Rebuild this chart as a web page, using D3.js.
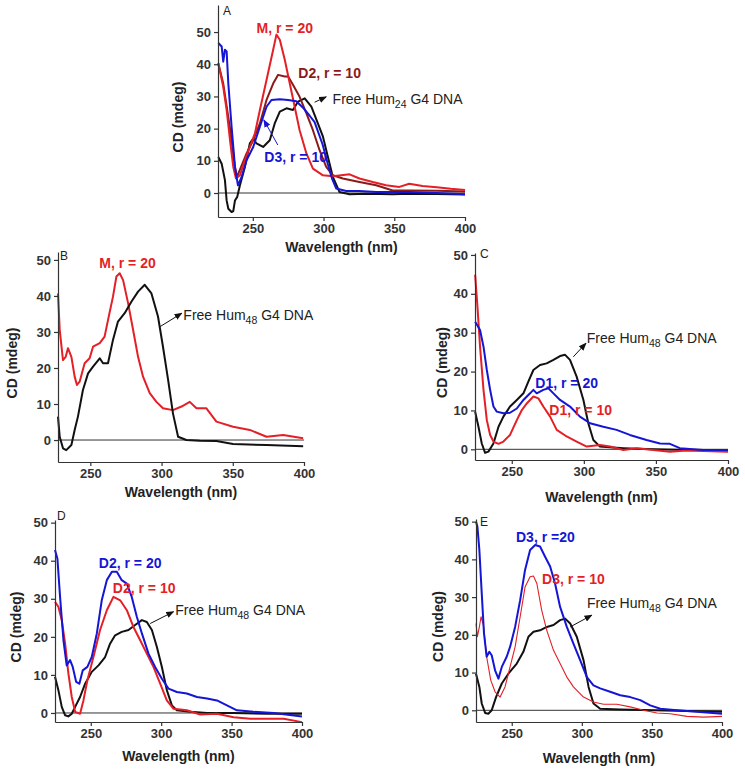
<!DOCTYPE html>
<html>
<head>
<meta charset="utf-8">
<script src="https://cdn.jsdelivr.net/npm/d3@7/dist/d3.min.js"></script>
<style>
  body { margin: 0; background: #fff; }
  text { font-family: "Liberation Sans", Arial, sans-serif; }
</style>
</head>
<body>
<div id="chart"></div>
<script>
// ---- data: [wavelength nm, CD mdeg] ----
var xTicks = [250, 300, 350, 400];
var yTicks = [0, 10, 20, 30, 40, 50];

// panel A (Hum24)
var A_free = [[225.6,11.2],[228,9.1],[230.3,4],[231.5,-2.3],[232.7,-4.9],[235,-5.9],[236.2,-5.6],[237.4,-2.3],[239,-1.2],[240.9,2.4],[244.4,8.1],[247.9,15.4],[250.3,16.9],[252.6,15.4],[257.3,14.3],[262,16.4],[265.5,21.6],[269.1,25.3],[273.8,26.3],[278.4,25.8],[282,28.4],[286.7,29.4],[291.4,26.8],[296,21.6],[299.6,17.5],[303.1,11.2],[306.6,5],[311.3,0.3],[318.4,-0.4],[330.1,-0.2],[348.9,-0.4],[360.6,-0.2],[380,-0.3],[400,-0.5]];
var A_M20 = [[225.6,40.3],[229.1,33],[231.5,25.8],[233.9,16.4],[236.2,8.1],[238.1,4.5],[240.9,5.5],[244.4,10.2],[247.9,14.3],[251.5,18.5],[255,25.8],[259.7,35.1],[264.4,44.5],[266.7,49.2],[269.1,47.6],[272.6,41.4],[276.1,34.1],[279.6,26.8],[283.1,19.5],[287.9,12.3],[292.5,7.6],[299.6,5.5],[306.6,5.2],[312.5,5.5],[318.4,5.8],[325.4,4.5],[334.8,3.4],[344.2,2.4],[353.6,1.9],[360.6,2.9],[370,2.2],[380,1.8],[390,1.3],[400,0.9]];
var A_D2r10 = [[225.6,40.3],[229.1,34],[233.9,20],[237.4,8],[238.8,5],[245.6,12.3],[250.3,16.4],[255,21.6],[259.7,28.9],[264.4,34],[267.9,36.7],[272.6,36.2],[275,36.2],[278.4,33.6],[283.1,29.9],[287.9,24.7],[292.5,19.5],[297.2,13.3],[301.9,8.1],[306.6,5.5],[313.6,4.5],[325.4,3.4],[337.2,2.4],[348.9,0.8],[360.6,0.8],[380,0.7],[400,0.5]];
var A_D3r10 = [[225.6,46.6],[228,45.5],[229.1,40.8],[230.3,44.5],[231.5,44],[232.7,34],[235,20.6],[237.4,8.1],[239.5,2.4],[242.1,5],[245.6,10.2],[250.3,14.3],[255,20.6],[259.7,26.8],[263.2,28.9],[269.1,29.1],[274.9,28.9],[280.8,28.5],[285.5,26.5],[290.2,24],[293.7,22],[299.4,15],[303,9],[306,4.5],[309,1.4],[316,0.6],[325.4,0.6],[337.2,0.3],[360.6,0.3],[380,0],[400,-0.4]];

// panel B (Hum48 + M)
var B_free = [[227.3,6.5],[228.5,0.9],[230.8,-2.3],[233.1,-2.8],[236.7,-1.4],[239,2.8],[241.3,6.5],[244.8,13.9],[248.4,18.5],[251.9,20.4],[256.6,22.7],[258.9,21.3],[262.4,21.3],[265.9,27.8],[269.4,32.9],[274.1,35.2],[278.8,38.4],[283.5,41.2],[288.2,43.1],[292.9,40.7],[297.5,34.3],[301,25.9],[304.6,16.7],[308,7.4],[311.6,0.9],[317.4,0],[326.8,-0.2],[338.5,-0.3],[350.2,-1.1],[373.7,-1.4],[399.4,-1.7]];
var B_M20 = [[227.3,40.7],[228.5,30.6],[230.8,22.2],[232.7,23.1],[234.3,25.5],[236.7,23.1],[239,17.6],[240.6,15.3],[242.5,16.2],[246,21.3],[249.5,22.7],[251.9,25.9],[256.6,26.9],[260,28.7],[262.4,33.3],[265.9,39.8],[268.3,45.4],[270.6,46.3],[273,44.4],[276.5,38],[280,30.6],[283.5,23.1],[287,17.6],[291.7,13],[296.4,10.6],[301,8.8],[308,8.3],[314,9.3],[319.8,10.6],[324.5,8.8],[331.5,8.8],[338.5,5.1],[350.2,3.7],[362,2.8],[373.7,0.9],[385.4,1.4],[399.4,0.5]];

// panel C (Hum48 + D1)
var C_free = [[224.6,9.7],[226.9,5.8],[229.2,1.5],[231.5,-0.9],[233.8,-0.6],[237.3,1.5],[240.8,5.8],[244.2,8.4],[248.8,11],[253.5,12.7],[258.1,14.4],[261.5,17.4],[265,20.4],[269.6,21.7],[274.2,22.1],[278.9,23],[283.5,24],[287,24.3],[290.4,23],[295,18.7],[299.7,12.7],[303.1,6.7],[306.6,2.4],[311.2,0.7],[318.1,0.5],[327.4,0.3],[348.2,0],[371.2,-0.2],[400,-0.3]];
var C_D1r20 = [[224.6,32.8],[228,30.7],[230.4,26.4],[232.7,20.4],[235,15.3],[237.3,11],[239.6,9.7],[244.2,9.3],[248.8,9.4],[253.5,10.5],[258.1,12.7],[262.7,14.4],[265,15.3],[267.3,14.4],[271.9,15.3],[275.4,15.7],[278.9,14.4],[283.5,12.7],[290.4,11],[297.3,8.4],[304.3,6.7],[313.5,5.8],[322.7,5],[331.9,3.7],[343.5,2.4],[352.8,1.5],[359.7,1.4],[366.6,0.3],[382.8,-0.2],[400,-0.2]];
var C_D1r10 = [[224.6,44.9],[226.2,36.7],[228,26.4],[230.4,15.3],[232.7,7.5],[235,3.7],[237.3,2],[240.8,1.4],[244.2,2],[248.8,3.7],[253.5,7.5],[257,10.1],[260.4,11.8],[265,13.6],[268.5,13.1],[271.9,11],[276.6,8.4],[281.2,5],[288.1,3.3],[295,2],[302,0.7],[311.2,1.1],[318.1,0.7],[327.4,-0.2],[336.6,0.3],[348.2,-0.2],[359.7,-0.6],[371.2,-0.3],[400,-0.6]];

// panel D (Hum48 + D2)
var D_free = [[224.6,9.5],[227,6],[229.4,1.6],[231.8,-0.6],[234.1,-0.9],[236.5,-0.2],[238.9,1.6],[242.4,4.2],[246,7.7],[250.7,10.8],[255.5,12.5],[260.2,14.7],[263.7,18.2],[267.3,20.4],[272,21.3],[276.8,21.8],[281.5,23.1],[286.3,24.4],[289.8,23.9],[293.4,21.8],[296.9,17.4],[300.5,12.1],[304,6],[307.6,2],[311.1,0.7],[320.6,0.3],[332.5,0],[351.4,0],[375.1,-0.2],[400,-0.2]];
var D_D2r20 = [[224.6,42.8],[226.3,40.6],[228.2,30.5],[230.6,19.1],[232.9,12.5],[235.3,13.9],[237.2,12.1],[239.6,8.2],[241.9,7.7],[244.3,11.2],[247.6,12.1],[250.7,14.7],[254.3,20.9],[257.8,29.6],[261.4,34.9],[265,37.1],[268.5,37.1],[272,34.9],[275.6,34],[279.1,30.5],[282.7,25.3],[286.3,20.9],[291,15.6],[295.7,12.1],[300.5,9],[305.2,6.4],[311.1,5.5],[318.2,5.1],[325.4,4.2],[332.5,3.8],[339.6,3.3],[346.7,2],[353.8,0.7],[365.6,0.3],[379.9,0],[400,-0.9]];
var D_D2r10 = [[224.6,29.2],[227,27.9],[229.4,24.4],[231.8,18.2],[234.1,10.4],[236.5,4.2],[238.9,0.3],[242.4,-0.2],[244.8,3.3],[247.6,8.6],[251.9,14.7],[256.6,21.8],[261.4,27],[266.1,30.5],[270.9,29.6],[275.6,27],[280.3,22.6],[285.1,19.1],[289.8,15.6],[294.5,12.1],[299.3,7.7],[304,3.3],[308.8,1.1],[318.2,0.7],[327.7,-0.4],[339.6,-0.2],[351.4,-1.1],[363.3,-1.5],[375.1,-1.5],[387,-1.5],[400,-2.4]];

// panel E (Hum48 + D3)
var E_free = [[224.5,9.7],[226.9,6.2],[228.6,1.8],[231,-0.7],[233.3,-0.9],[235.7,0],[238.8,3.5],[242.9,7.1],[247.6,9.7],[253.6,12.4],[258.3,15.5],[261.9,19.5],[265.5,20.8],[270.2,21.2],[275,22.1],[279.8,22.6],[284.5,23.9],[288.1,24.3],[291.7,23],[296.4,19.5],[301.2,13.3],[304.8,6.2],[308.3,1.8],[313.1,0.4],[327.4,0.2],[351.2,0],[375,-0.2],[400,-0.4]];
var E_D3r20 = [[224.5,50],[225.5,48.7],[226.9,42.5],[228.6,31],[230.2,20.4],[232.1,14.2],[234,15.5],[235.7,14.6],[238.1,10.6],[240.5,8.4],[242.9,11.5],[246.4,14.2],[248.8,16.8],[252.4,22.1],[256,29.2],[259.5,37.2],[263.1,42.5],[266.7,43.8],[270.2,43.4],[273.8,40.7],[277.4,38.1],[280.9,33.6],[284.5,27.4],[289.3,22.1],[294,17.7],[298.8,13.3],[303.6,8.8],[308.3,6.6],[313.1,5.8],[320.2,4.9],[327.4,4],[334.5,3.5],[341.7,2.7],[348.8,1.3],[356,0.4],[367.9,0],[382.1,-0.4],[400,-0.9]];
var E_D3r10 = [[224.5,23],[225.5,19.5],[226.9,22.1],[228.1,24.8],[229.8,22.6],[232.1,14.2],[235,8],[238.1,4.9],[241.7,3.5],[245.2,6.2],[248.8,11.5],[252.4,16.8],[256,24.8],[259.5,32.7],[263.1,35.4],[265.5,35.6],[267.9,33.6],[271.4,26.5],[275,21.2],[279.8,15.9],[284.5,12.4],[289.3,8.8],[294,6.2],[301.2,3.5],[308.3,2.2],[315.5,1.6],[325,1.6],[334.5,0.9],[344,0],[353.6,-0.7],[363.1,-0.9],[375,-1.6],[386.9,-1.8],[400,-1.6]];

// ---- layout ----
var RED = "#e41f26", BLUE = "#1515d6", DRED = "#8b1a1a", BLACK = "#111";

var panels = [
  { letter: "A", lx: 223, ly: 15, x0: 218, x1: 465, yb: 217, yt: 5, xd: [225.4, 400], yd: [-7.45, 58.4], ylabX: 178, xlabY: 247,
    series: [ {d: A_free, c: BLACK, w: 2}, {d: A_D2r10, c: DRED, w: 2}, {d: A_M20, c: RED, w: 2}, {d: A_D3r10, c: BLUE, w: 2} ],
    notes: [ {t: "M, r = 20", x: 272.6, y: 51.2, c: RED, b: true},
             {t: "D2, r = 10", x: 304.3, y: 37.3, c: DRED, b: true},
             {t: "Free Hum", sub: "24", rest: " G4 DNA", x: 306.4, y: 29.2, c: "#222", a: "start"},
             {t: "D3, r = 10", x: 280.3, y: 11.2, c: BLUE, b: true} ],
    arrows: [ {from: [293.7, 28.2], to: [301.9, 29.9], c: "black"}, {from: [267.7, 14.9], to: [257.8, 22.7], c: "blue"} ] },
  { letter: "B", lx: 60, ly: 260, x0: 58, x1: 304, yb: 462, yt: 252, xd: [227.3, 400], yd: [-6.1, 52.2], ylabX: 12, xlabY: 492,
    series: [ {d: B_M20, c: RED, w: 2}, {d: B_free, c: BLACK, w: 2} ],
    notes: [ {t: "M, r = 20", x: 276.1, y: 49.1, c: RED, b: true},
             {t: "Free Hum", sub: "48", rest: " G4 DNA", x: 315.3, y: 34.7, c: "#222", a: "start"} ],
    arrows: [ {from: [299, 31.5], to: [314.2, 35.2], c: "black"} ] },
  { letter: "C", lx: 480, ly: 258, x0: 475, x1: 728, yb: 460, yt: 253, xd: [224.5, 400], yd: [-2.75, 50.5], ylabX: 442, xlabY: 497,
    series: [ {d: C_free, c: BLACK, w: 2}, {d: C_D1r10, c: RED, w: 2}, {d: C_D1r20, c: BLUE, w: 2} ],
    notes: [ {t: "Free Hum", sub: "48", rest: " G4 DNA", x: 302, y: 28.6, c: "#222", a: "start"},
             {t: "D1, r = 20", x: 288.1, y: 17, c: BLUE, b: true},
             {t: "D1, r = 10", x: 297.8, y: 10.1, c: RED, b: true} ],
    arrows: [ {from: [292.7, 23.8], to: [301.5, 27.3], c: "black"} ] },
  { letter: "D", lx: 57, ly: 520, x0: 55, x1: 302, yb: 722, yt: 520, xd: [224.6, 400], yd: [-2.37, 50.7], ylabX: 16, xlabY: 756,
    series: [ {d: D_free, c: BLACK, w: 2}, {d: D_D2r10, c: RED, w: 2}, {d: D_D2r20, c: BLUE, w: 2} ],
    notes: [ {t: "D2, r = 20", x: 278, y: 39.3, c: BLUE, b: true},
             {t: "D2, r = 10", x: 287.9, y: 32.7, c: RED, b: true},
             {t: "Free Hum", sub: "48", rest: " G4 DNA", x: 310, y: 27, c: "#222", a: "start"} ],
    arrows: [ {from: [292.2, 23.5], to: [308.8, 26.6], c: "black"} ] },
  { letter: "E", lx: 480, ly: 526, x0: 476, x1: 722, yb: 722, yt: 519, xd: [224.5, 400], yd: [-3.1, 50.7], ylabX: 438, xlabY: 758,
    series: [ {d: E_free, c: BLACK, w: 2}, {d: E_D3r10, c: RED, w: 1.1}, {d: E_D3r20, c: BLUE, w: 2} ],
    notes: [ {t: "D3, r =20", x: 274, y: 46, c: BLUE, b: true},
             {t: "D3, r = 10", x: 294, y: 34.7, c: RED, b: true},
             {t: "Free Hum", sub: "48", rest: " G4 DNA", x: 303.6, y: 28.5, c: "#222", a: "start"} ],
    arrows: [ {from: [291.7, 22.1], to: [307.1, 25.2], c: "black"} ] }
];

var svg = d3.select("#chart").append("svg")
    .attr("width", 745)
    .attr("height", 770);

var defs = svg.append("defs");
[["black", "#111"], ["blue", BLUE]].forEach(function(m) {
  defs.append("marker")
      .attr("id", "arrow-" + m[0])
      .attr("viewBox", "0 0 10 8")
      .attr("refX", 9).attr("refY", 4)
      .attr("markerWidth", 8).attr("markerHeight", 6.5)
      .attr("markerUnits", "userSpaceOnUse")
      .attr("orient", "auto")
    .append("path")
      .attr("d", "M0,0L10,4L0,8z")
      .attr("fill", m[1]);
});

panels.forEach(function(p) {
  var x = d3.scaleLinear().domain(p.xd).range([p.x0, p.x1]);
  var y = d3.scaleLinear().domain(p.yd).range([p.yb, p.yt]);
  var g = svg.append("g");

  // zero line
  g.append("line")
      .attr("x1", x(p.xd[0])).attr("x2", x(400))
      .attr("y1", y(0)).attr("y2", y(0))
      .attr("stroke", "#333").attr("stroke-width", 1);

  // curves
  var line = d3.line()
      .x(function(d) { return x(d[0]); })
      .y(function(d) { return y(d[1]); });
  p.series.forEach(function(s) {
    g.append("path")
        .attr("d", line(s.d))
        .attr("fill", "none")
        .attr("stroke", s.c)
        .attr("stroke-width", s.w)
        .attr("stroke-linejoin", "round");
  });

  // axes
  var yAxis = d3.axisLeft(y).tickValues(yTicks).tickSize(4).tickSizeOuter(0);
  var xAxis = d3.axisBottom(x).tickValues(xTicks).tickSize(4).tickSizeOuter(0);
  var ya = g.append("g").attr("transform", "translate(" + p.x0 + ",0)").call(yAxis);
  var xa = g.append("g").attr("transform", "translate(0," + p.yb + ")").call(xAxis);
  [ya, xa].forEach(function(a) {
    a.selectAll("path, line").attr("stroke", "#333").attr("stroke-width", 1.2);
    a.selectAll("text")
        .attr("fill", "#333")
        .style("font-size", "13px")
        .style("font-weight", "bold")
        .style("font-family", "'Liberation Sans', Arial, sans-serif");
  });

  // axis titles
  g.append("text")
      .attr("transform", "translate(" + p.ylabX + "," + ((p.yb + p.yt) / 2 + 6) + ") rotate(-90)")
      .attr("text-anchor", "middle")
      .attr("dy", "0.35em")
      .attr("fill", "#222")
      .style("font-size", "14px")
      .style("font-weight", "bold")
      .text("CD (mdeg)");
  g.append("text")
      .attr("x", (p.x0 + p.x1) / 2)
      .attr("y", p.xlabY)
      .attr("text-anchor", "middle")
      .attr("dy", "0.35em")
      .attr("fill", "#222")
      .style("font-size", "14px")
      .style("font-weight", "bold")
      .text("Wavelength (nm)");

  // panel letter
  g.append("text")
      .attr("x", p.lx).attr("y", p.ly)
      .attr("fill", "#222")
      .style("font-size", "12px")
      .text(p.letter);

  // arrows
  p.arrows.forEach(function(a) {
    g.append("line")
        .attr("x1", x(a.from[0])).attr("y1", y(a.from[1]))
        .attr("x2", x(a.to[0])).attr("y2", y(a.to[1]))
        .attr("stroke", a.c == "blue" ? BLUE : "#111")
        .attr("stroke-width", 1)
        .attr("marker-end", "url(#arrow-" + a.c + ")");
  });

  // annotations
  p.notes.forEach(function(n) {
    var t = g.append("text")
        .attr("x", x(n.x)).attr("y", y(n.y))
        .attr("dy", "0.35em")
        .attr("text-anchor", n.a || "middle")
        .attr("fill", n.c)
        .style("font-size", "14px")
        .style("font-weight", n.b ? "bold" : "normal");
    t.append("tspan").text(n.t);
    if (n.sub) {
      t.append("tspan").attr("dy", 4).style("font-size", "10.5px").text(n.sub);
      t.append("tspan").attr("dy", -4).text(n.rest);
    }
  });
});
</script>
</body>
</html>
